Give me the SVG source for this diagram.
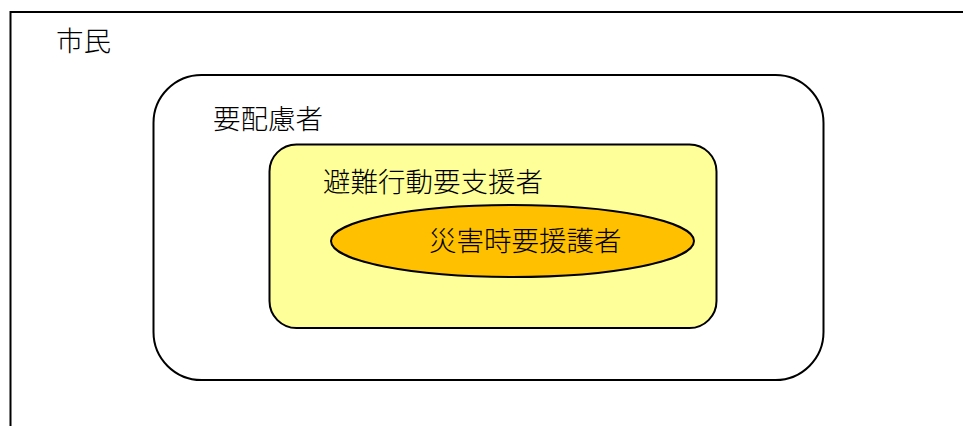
<svg xmlns="http://www.w3.org/2000/svg" width="963" height="426" viewBox="0 0 963 426">
<style>
text{font-family:"Noto Sans CJK JP","Noto Sans CJK SC",sans-serif;font-size:27.5px;font-weight:300;fill:#000}
.b{stroke:#000;stroke-width:2}
</style>
<rect width="963" height="426" fill="#fff"/>
<g id="shimin">
<path d="M10.5 426 V12 H963" fill="none" stroke="#000" stroke-width="2"/>
<text x="56" y="51">市民</text>
</g>
<g id="yohairyo">
<rect class="b" x="153.5" y="75" width="670" height="305" rx="48" ry="48" fill="#fff"/>
<text x="213" y="129">要配慮者</text>
</g>
<g id="hinan">
<rect class="b" x="269.5" y="144.5" width="447" height="183.5" rx="27" ry="27" fill="#ffff99"/>
<text x="323" y="192">避難行動要支援者</text>
</g>
<g id="saigai">
<ellipse class="b" cx="512.5" cy="241" rx="181.5" ry="36" fill="#ffc000"/>
<text x="429" y="251">災害時要援護者</text>
</g>
<g id="connectors"/>
</svg>
